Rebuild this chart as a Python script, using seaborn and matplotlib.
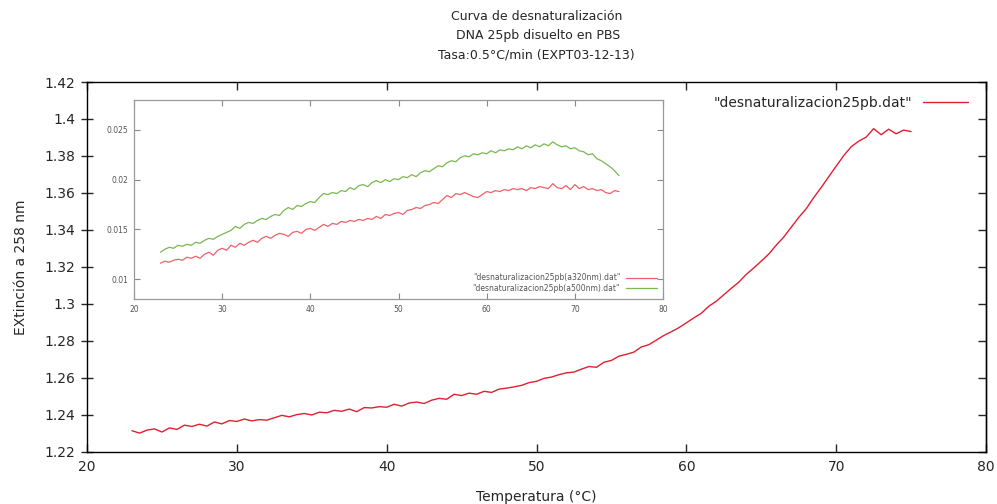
import numpy as np
import pandas as pd
import matplotlib
matplotlib.use("Agg")
import matplotlib.pyplot as plt
import seaborn as sns

# =====================
# Data (0.5 °C steps from 23 to 75 °C)
# =====================
temp_start, temp_stop, temp_step = 23.0, 75.0, 0.5

ext_258 = [
    1.2315, 1.2302, 1.2318, 1.2325, 1.2308, 1.2330, 1.2322, 1.2345, 1.2338, 1.2350,
    1.2340, 1.2362, 1.2352, 1.2370, 1.2365, 1.2378, 1.2368, 1.2375, 1.2372, 1.2385,
    1.2398, 1.2390, 1.2402, 1.2408, 1.2400, 1.2415, 1.2412, 1.2425, 1.2420, 1.2432,
    1.2418, 1.2440, 1.2438, 1.2445, 1.2442, 1.2458, 1.2448, 1.2465, 1.2470, 1.2462,
    1.2480, 1.2490, 1.2485, 1.2512, 1.2505, 1.2518, 1.2512, 1.2528, 1.2522, 1.2540,
    1.2545, 1.2552, 1.2560, 1.2575, 1.2582, 1.2598, 1.2605, 1.2618, 1.2628, 1.2632,
    1.2648, 1.2662, 1.2658, 1.2685, 1.2695, 1.2718, 1.2728, 1.2740, 1.2768, 1.2780,
    1.2805, 1.2830, 1.2850, 1.2872, 1.2898, 1.2925, 1.2950, 1.2988, 1.3015, 1.3050,
    1.3085, 1.3118, 1.3160, 1.3195, 1.3232, 1.3270, 1.3318, 1.3362, 1.3415, 1.3468,
    1.3515, 1.3575, 1.3630, 1.3688, 1.3745, 1.3802, 1.3850, 1.3880, 1.3902, 1.3948,
    1.3915, 1.3945, 1.3920, 1.3940, 1.3932,
]

ext_320 = [
    0.0116, 0.0118, 0.0117, 0.0119, 0.0120, 0.0119, 0.0122, 0.0121, 0.0123, 0.0121,
    0.0125, 0.0127, 0.0124, 0.0129, 0.0131, 0.0129, 0.0134, 0.0132, 0.0136, 0.0134,
    0.0137, 0.0139, 0.0137, 0.0141, 0.0143, 0.0141, 0.0144, 0.0146, 0.0145, 0.0143,
    0.0147, 0.0148, 0.0146, 0.0150, 0.0151, 0.0149, 0.0152, 0.0155, 0.0153, 0.0156,
    0.0155, 0.0158, 0.0157, 0.0159, 0.0158, 0.0160, 0.0159, 0.0161, 0.0160, 0.0163,
    0.0161, 0.0165, 0.0164, 0.0166, 0.0167, 0.0165, 0.0169, 0.0170, 0.0172, 0.0171,
    0.0174, 0.0175, 0.0177, 0.0176, 0.0180, 0.0184, 0.0182, 0.0186, 0.0185, 0.0187,
    0.0185, 0.0183, 0.0182, 0.0185, 0.0188, 0.0187, 0.0189, 0.0188, 0.0190, 0.0189,
    0.0191, 0.0190, 0.0191, 0.0189, 0.0192, 0.0191, 0.0193, 0.0192, 0.0191, 0.0196,
    0.0192, 0.0191, 0.0194, 0.0190, 0.0195, 0.0191, 0.0193, 0.0190, 0.0191, 0.0189,
    0.0190, 0.0187, 0.0186, 0.0189, 0.0188,
]

ext_500 = [
    0.0127, 0.0130, 0.0132, 0.0131, 0.0134, 0.0133, 0.0135, 0.0134, 0.0137, 0.0136,
    0.0139, 0.0141, 0.0140, 0.0143, 0.0145, 0.0147, 0.0149, 0.0153, 0.0151, 0.0155,
    0.0157, 0.0156, 0.0159, 0.0161, 0.0160, 0.0163, 0.0165, 0.0164, 0.0169, 0.0172,
    0.0170, 0.0174, 0.0173, 0.0176, 0.0178, 0.0177, 0.0182, 0.0186, 0.0185, 0.0187,
    0.0186, 0.0189, 0.0188, 0.0192, 0.0190, 0.0194, 0.0195, 0.0193, 0.0197, 0.0199,
    0.0197, 0.0200, 0.0198, 0.0201, 0.0200, 0.0203, 0.0202, 0.0205, 0.0203, 0.0207,
    0.0209, 0.0208, 0.0211, 0.0214, 0.0213, 0.0217, 0.0219, 0.0218, 0.0222, 0.0224,
    0.0223, 0.0226, 0.0225, 0.0227, 0.0226, 0.0229, 0.0227, 0.0230, 0.0229, 0.0231,
    0.0230, 0.0233, 0.0231, 0.0234, 0.0232, 0.0235, 0.0233, 0.0236, 0.0234, 0.0238,
    0.0235, 0.0233, 0.0234, 0.0231, 0.0232, 0.0229, 0.0228, 0.0225, 0.0226, 0.0221,
    0.0219, 0.0216, 0.0213, 0.0209, 0.0204,
]

main_label = '"desnaturalizacion25pb.dat"'
label_320 = '"desnaturalizacion25pb(a320nm).dat"'
label_500 = '"desnaturalizacion25pb(a500nm).dat"'
title = "Curva de desnaturalización\n DNA 25pb disuelto en PBS\nTasa:0.5°C/min (EXPT03-12-13)"

temps = np.arange(temp_start, temp_stop + temp_step / 2, temp_step)
df = pd.DataFrame({"T": temps, "e258": ext_258, "e320": ext_320, "e500": ext_500})

# =====================
# Figure
# =====================
sns.set_style("ticks")
plt.rcParams["font.family"] = ["DejaVu Sans"]

fig = plt.figure(figsize=(9.97, 5.04), dpi=100)
ax = fig.add_axes([0.0873, 0.1032, 0.9017, 0.7341])

sns.lineplot(data=df, x="T", y="e258", ax=ax, color="#e02030", linewidth=1.0,
             label=main_label, sort=False, estimator=None)
ax.set_xlim(20, 80)
ax.set_ylim(1.22, 1.42)
yt = np.round(np.arange(1.22, 1.421, 0.02), 2)
ax.set_xticks([20, 30, 40, 50, 60, 70, 80])
ax.set_yticks(yt)
ax.set_yticklabels(["1.22", "1.24", "1.26", "1.28", "1.3", "1.32", "1.34",
                    "1.36", "1.38", "1.4", "1.42"])
ax.tick_params(axis="x", direction="in", top=True, length=6, width=1,
               labelsize=10, pad=6)
ax.tick_params(axis="y", direction="inout", length=9, width=1, labelsize=10,
               right=False, pad=4)
# right side ticks point inward, like gnuplot's mirror ticks
sec = ax.secondary_yaxis("right")
sec.set_yticks(yt)
sec.tick_params(direction="in", length=6, width=1, labelright=False)
sec.spines["right"].set_linewidth(1.0)
for s in ax.spines.values():
    s.set_linewidth(1.0)
    s.set_color("black")
ax.set_xlabel("Temperatura (°C)", fontsize=10, labelpad=11)
ax.set_ylabel("EXtinción a 258 nm", fontsize=10, labelpad=12)
ax.set_title(title, fontsize=9, linespacing=1.6, pad=17)
ax.legend(loc="upper right", frameon=False, markerfirst=False, fontsize=10,
          handlelength=3.2, borderaxespad=0.6, bbox_to_anchor=(0.995, 1.0))

# =====================
# Inset
# =====================
ins = fig.add_axes([0.1344, 0.4067, 0.5306, 0.3948])
sns.lineplot(data=df, x="T", y="e320", ax=ins, color="#f06068", linewidth=0.9,
             label=label_320, sort=False, estimator=None)
sns.lineplot(data=df, x="T", y="e500", ax=ins, color="#78b850", linewidth=0.9,
             label=label_500, sort=False, estimator=None)
ins.set_xlim(20, 80)
ins.set_ylim(0.008, 0.028)
ins.set_xticks([20, 30, 40, 50, 60, 70, 80])
ins.set_yticks([0.01, 0.015, 0.02, 0.025])
ins.set_yticklabels(["0.01", "0.015", "0.02", "0.025"])
ins.set_xlabel("")
ins.set_ylabel("")
ins.tick_params(direction="in", top=True, right=True, length=4, width=0.8,
                labelsize=5.5, colors="#888888", labelcolor="#555555", pad=4)
for s in ins.spines.values():
    s.set_linewidth(0.9)
    s.set_color("#999999")
leg = ins.legend(loc="lower right", frameon=False, markerfirst=False, fontsize=5.5,
                 handlelength=4, borderaxespad=0.4, labelspacing=0.2)
for t in leg.get_texts():
    t.set_color("#555555")

fig.savefig("out.png", dpi=100)
plt.close(fig)
